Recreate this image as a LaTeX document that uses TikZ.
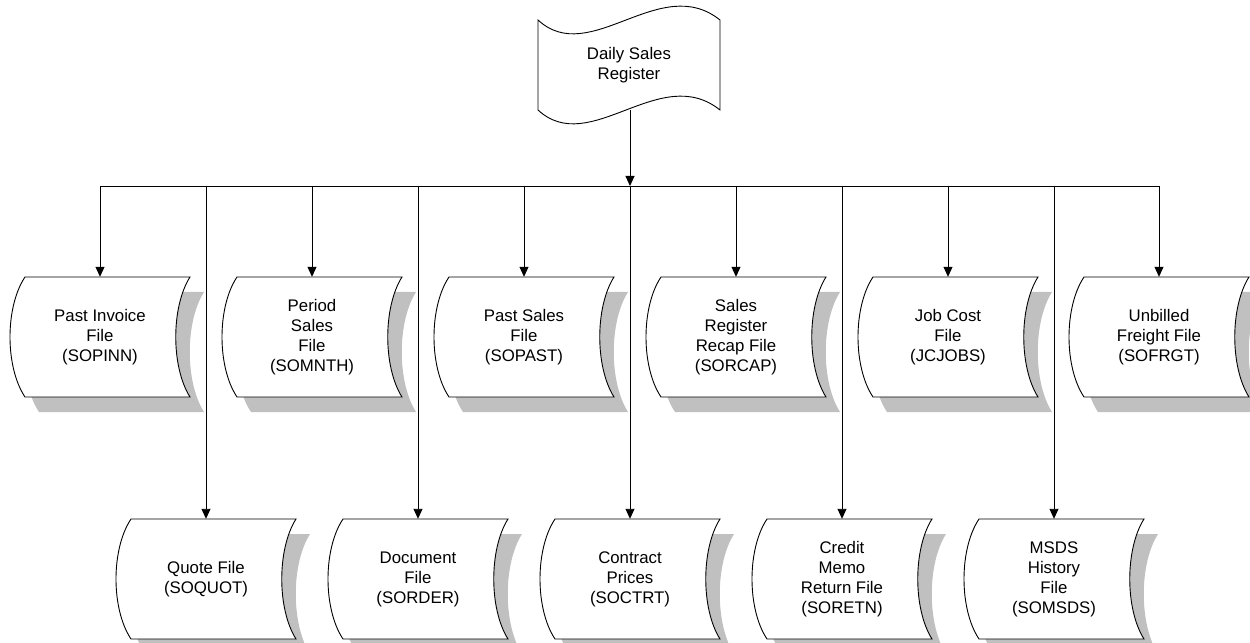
\documentclass[tikz,border=0pt]{standalone}
\usepackage{fontspec}
\setmainfont{Liberation Sans}
\usetikzlibrary{arrows.meta}
\definecolor{shadowgray}{RGB}{192,192,192}
\tikzset{
  line/.style={line width=0.9bp, draw=black},
  arr/.style={line, -{Triangle[length=10bp,width=9bp]}},
  filetext/.style={shape=rectangle, minimum width=180bp, minimum height=120bp,
    inner sep=0pt, align=center, font=\fontsize{16.8bp}{20bp}\selectfont},
  outline/.style={line, fill=white},
}
% stored-data symbol: straight top and bottom, both sides bowed to the left
\newcommand\fileshape[2]{%
  (#1-75,#2-60) -- (#1+90,#2-60)
  .. controls (#1+71,#2-30) and (#1+71,#2+30) .. (#1+90,#2+60)
  -- (#1-75,#2+60)
  .. controls (#1-95,#2+30) and (#1-95,#2-30) .. (#1-75,#2-60) -- cycle}
\newcommand\filebox[4]{%
  \fill[shadowgray] \fileshape{#2+14}{#3+15};
  \draw[outline] \fileshape{#2}{#3};
  \node[filetext] (#1) at (#2,#3) {#4};}
\begin{document}
\begin{tikzpicture}[x=1bp,y=-1bp]
\useasboundingbox (0,0) rectangle (1250,643);
\clip (0,0) rectangle (1250,643);

% report at the top
\draw[outline] (538,20) .. controls (590,68) and (660,-28) .. (720,20)
  -- (720,110) .. controls (660,62) and (590,158) .. (538,110) -- cycle;
\node[filetext, minimum width=182bp, minimum height=90bp] (dsr) at (629,65)
  {Daily Sales\\Register};

% distribution bus
\coordinate (busL) at (100,186);
\coordinate (busR) at (1159,186);
\coordinate (busM) at (630,186);
\draw[line] (busL) -- (busR);
\draw[arr] (630,110) -- (busM);

% upper row of files
\filebox{pinn}{100}{337}{Past Invoice\\File\\(SOPINN)}
\filebox{mnth}{312}{337}{Period\\Sales\\File\\(SOMNTH)}
\filebox{past}{524}{337}{Past Sales\\File\\(SOPAST)}
\filebox{rcap}{736}{337}{Sales\\Register\\Recap File\\(SORCAP)}
\filebox{jobs}{948}{337}{Job Cost\\File\\(JCJOBS)}
\filebox{frgt}{1159}{337}{Unbilled\\Freight File\\(SOFRGT)}

% lower row of files
\filebox{quot}{206}{579}{Quote File\\(SOQUOT)}
\filebox{ordr}{418}{579}{Document\\File\\(SORDER)}
\filebox{ctrt}{630}{579}{Contract\\Prices\\(SOCTRT)}
\filebox{retn}{842}{579}{Credit\\Memo\\Return File\\(SORETN)}
\filebox{msds}{1054}{579}{MSDS\\History\\File\\(SOMSDS)}

% drops from the bus
\foreach \n in {pinn,mnth,past,rcap,jobs,frgt,quot,ordr,ctrt,retn,msds}
  \draw[arr] (\n.north |- busL) -- (\n.north);
\end{tikzpicture}
\end{document}
